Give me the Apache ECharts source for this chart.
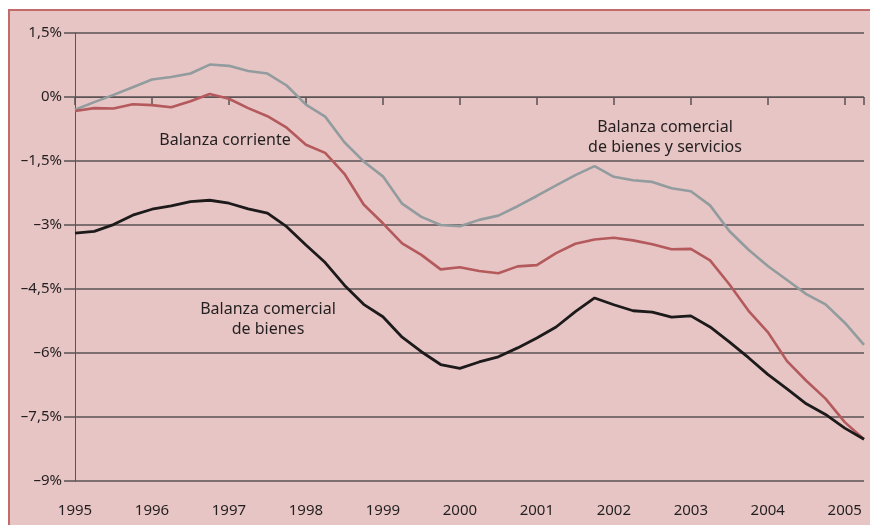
<!DOCTYPE html>
<html>
<head>
<meta charset="utf-8">
<script src="https://cdn.jsdelivr.net/npm/echarts@6/dist/echarts.min.js"></script>
<style>
  html, body { margin: 0; padding: 0; background: #fff; }
  #panel {
    position: absolute; left: 8px; top: 9px; width: 862px; height: 516px;
    background: #e7c5c4; border-left: 2px solid #c46a6a; border-top: 2px solid #c46a6a;
    box-sizing: border-box;
  }
  #chart { position: absolute; left: 0; top: 0; width: 870px; height: 525px; }
</style>
</head>
<body>
<div id="panel"></div>
<div id="chart"></div>
<script>
// quarterly data, first quarter 1995 onwards (% of GDP)
const startYear = 1995
const yearTicks = [1995, 1996, 1997, 1998, 1999, 2000, 2001, 2002, 2003, 2004, 2005]

const bienesServicios = [
  -0.30, -0.12, 0.05, 0.23, 0.41, 0.47, 0.55, 0.76, 0.73, 0.61, 0.55, 0.27,
  -0.18, -0.46, -1.06, -1.51, -1.86, -2.50, -2.81, -3.00, -3.03, -2.88, -2.78, -2.56,
  -2.32, -2.07, -1.83, -1.62, -1.87, -1.95, -1.99, -2.14, -2.21, -2.54, -3.14, -3.58,
  -3.96, -4.29, -4.62, -4.86, -5.29, -5.81
]

const corriente = [
  -0.33, -0.26, -0.27, -0.17, -0.19, -0.24, -0.10, 0.07, -0.04, -0.26, -0.45, -0.72,
  -1.12, -1.31, -1.80, -2.52, -2.96, -3.43, -3.70, -4.04, -3.99, -4.08, -4.13, -3.97,
  -3.94, -3.66, -3.44, -3.34, -3.30, -3.36, -3.45, -3.57, -3.56, -3.83, -4.39, -5.01,
  -5.51, -6.19, -6.65, -7.07, -7.62, -8.02
]

const bienes = [
  -3.19, -3.15, -2.99, -2.77, -2.63, -2.55, -2.45, -2.42, -2.49, -2.62, -2.72, -3.04,
  -3.47, -3.88, -4.41, -4.86, -5.15, -5.63, -5.97, -6.27, -6.36, -6.21, -6.09, -5.88,
  -5.65, -5.39, -5.03, -4.71, -4.87, -5.01, -5.04, -5.16, -5.13, -5.39, -5.74, -6.11,
  -6.50, -6.84, -7.19, -7.44, -7.76, -8.02
]

const TEXT = '#231f20'
const GRID = '#5a5253'
const FONT = 'Noto Sans'

function toPairs(values) {
  return values.map((v, i) => [startYear + i / 4, v])
}

function pctLabel(v) {
  const s = String(Math.abs(v)).replace('.', ',') + '%'
  return v < 0 ? '\u2013' + s : s
}

const chart = echarts.init(document.getElementById('chart'), null, { renderer: 'canvas' })

const xBase = { type: 'value', min: 1995, max: 2005.25, interval: 1 }

chart.setOption({
  animation: false,
  backgroundColor: 'transparent',
  textStyle: { fontFamily: FONT },
  grid: { left: 75, right: 6, top: 33, bottom: 44 },
  xAxis: [
    {
      ...xBase,
      position: 'bottom',
      axisLine: { show: true, onZero: true, lineStyle: { color: GRID, width: 1 } },
      axisTick: { show: true, length: 8, lineStyle: { color: GRID, width: 1.5 } },
      axisLabel: { show: false },
      splitLine: { show: false },
    },
    {
      ...xBase,
      position: 'bottom',
      axisLine: { show: false, onZero: false },
      axisTick: { show: false },
      splitLine: { show: false },
      axisLabel: {
        color: TEXT, fontSize: 15, margin: 22, fontFamily: FONT,
        formatter: v => yearTicks.includes(v) ? String(v) : '',
      },
    },
  ],
  yAxis: {
    type: 'value',
    min: -9, max: 1.5, interval: 1.5,
    axisLine: { show: true, lineStyle: { color: GRID, width: 1 } },
    axisTick: { show: true, length: 11, lineStyle: { color: GRID, width: 1.5 } },
    axisLabel: { color: TEXT, fontSize: 15, margin: 13, fontFamily: FONT, formatter: pctLabel },
    splitLine: { show: true, lineStyle: { color: GRID, width: 1.5 } },
  },
  series: [
    {
      name: 'Balanza comercial de bienes y servicios',
      type: 'line', xAxisIndex: 0, data: toPairs(bienesServicios),
      symbol: 'none', lineStyle: { color: '#929c9e', width: 2.6 },
    },
    {
      name: 'Balanza corriente',
      type: 'line', xAxisIndex: 0, data: toPairs(corriente),
      symbol: 'none', lineStyle: { color: '#b4595c', width: 2.6 },
    },
    {
      name: 'Balanza comercial de bienes',
      type: 'line', xAxisIndex: 0, data: toPairs(bienes),
      symbol: 'none', lineStyle: { color: '#1c1a1a', width: 2.8 },
    },
  ],
  graphic: [
    {
      type: 'text', x: 225, y: 140,
      style: {
        text: 'Balanza corriente', fill: TEXT, font: '16px "Noto Sans"',
        align: 'center', verticalAlign: 'middle',
      },
    },
    {
      type: 'text', x: 665, y: 137,
      style: {
        text: 'Balanza comercial\nde bienes y servicios', fill: TEXT,
        font: '16px "Noto Sans"', align: 'center', verticalAlign: 'middle', lineHeight: 20,
      },
    },
    {
      type: 'text', x: 268, y: 319,
      style: {
        text: 'Balanza comercial\nde bienes', fill: TEXT,
        font: '16px "Noto Sans"', align: 'center', verticalAlign: 'middle', lineHeight: 20,
      },
    },
  ],
})
</script>
</body>
</html>
